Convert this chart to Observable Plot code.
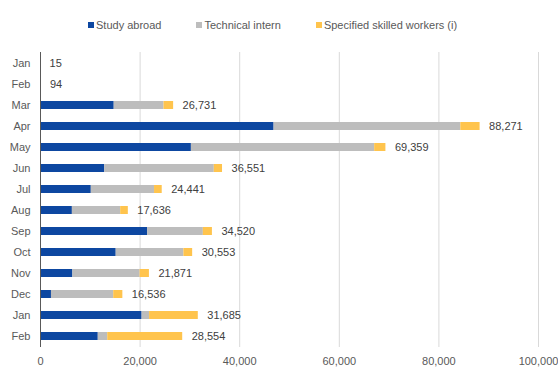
<!DOCTYPE html>
<html>
<head>
<meta charset="utf-8">
<script src="https://cdn.jsdelivr.net/npm/d3@7"></script>
<script src="https://cdn.jsdelivr.net/npm/@observablehq/plot@0.6"></script>
<style>
  body { margin: 0; background: #fff; font-family: "Liberation Sans", Arial, sans-serif; }
  #legend { height: 40px; box-sizing: border-box; padding-top: 10px; padding-left: 88px; display: flex; gap: 35px; font-size: 11px; color: #595959; line-height: 14px; }
  #legend span.item { display: flex; align-items: center; }
  #legend span.sw { width: 6px; height: 6px; margin-right: 2px; display: inline-block; }
</style>
</head>
<body>
<div id="legend"></div>
<div id="chart"></div>
<script>
const months = ["Jan","Feb","Mar","Apr","May","Jun","Jul","Aug","Sep","Oct","Nov","Dec","Jan","Feb"];
const seriesNames = ["Study abroad", "Technical intern", "Specified skilled workers (i)"];
const seriesColors = ["#0D47A1", "#BDBDBD", "#FFC44D"];
const studyAbroad     = [15, 94, 14800, 46900, 30300, 12900, 10200, 6400, 21500, 15200, 6500, 2200, 20400, 11600];
const technicalIntern = [0, 0, 10000, 37500, 36800, 22000, 12700, 9700, 11200, 13600, 13500, 12500, 1500, 1900];
const skilledWorkers  = [0, 0, 1931, 3871, 2259, 1651, 1541, 1536, 1820, 1753, 1871, 1836, 9785, 15054];
const totals          = [15, 94, 26731, 88271, 69359, 36551, 24441, 17636, 34520, 30553, 21871, 16536, 31685, 28554];
const xTicks = [0, 20000, 40000, 60000, 80000, 100000];

const seriesValues = [studyAbroad, technicalIntern, skilledWorkers];
const long = [];
months.forEach((m, i) => {
  seriesNames.forEach((s, k) => long.push({i, series: s, value: seriesValues[k][i]}));
});
const totalRows = months.map((m, i) => ({i, total: totals[i]}));

const legend = document.getElementById("legend");
seriesNames.forEach((s, k) => {
  const it = document.createElement("span");
  it.className = "item";
  const sw = document.createElement("span");
  sw.className = "sw";
  sw.style.background = seriesColors[k];
  it.appendChild(sw);
  it.appendChild(document.createTextNode(s));
  legend.appendChild(it);
});

const chart = Plot.plot({
  width: 558,
  height: 329,
  marginTop: 12,
  marginBottom: 22,
  marginLeft: 40,
  marginRight: 20,
  style: { fontFamily: "'Liberation Sans', Arial, sans-serif", fontSize: "11px", color: "#595959", background: "#fff" },
  x: { domain: [0, 100000], ticks: xTicks, tickFormat: d3.format(","), tickSize: 0, tickPadding: 10, label: null },
  y: { domain: d3.range(months.length), tickFormat: i => months[i], tickSize: 0, tickPadding: 10, paddingInner: 0.6, paddingOuter: 0.3, label: null },
  color: { domain: seriesNames, range: seriesColors },
  marks: [
    Plot.ruleX(xTicks.slice(1), { stroke: "#D9D9D9", strokeWidth: 1 }),
    Plot.barX(long, { y: "i", x: "value", fill: "series", order: seriesNames }),
    Plot.ruleX([0], { stroke: "#595959", strokeWidth: 1 }),
    Plot.text(totalRows, { x: "total", y: "i", text: d => d3.format(",")(d.total), dx: 9, textAnchor: "start", fill: "#404040", fontSize: 11 })
  ]
});
document.getElementById("chart").appendChild(chart);
</script>
</body>
</html>
